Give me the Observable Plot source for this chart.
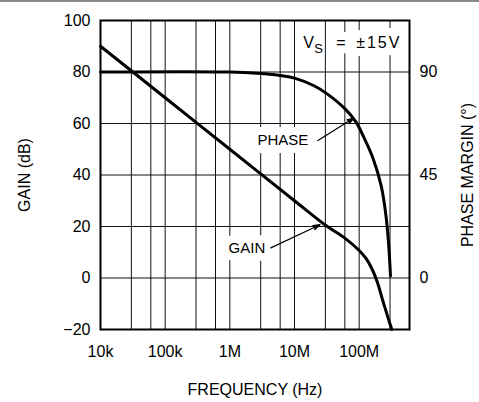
<!DOCTYPE html>
<html><head><meta charset="utf-8">
<script src="https://cdn.jsdelivr.net/npm/d3@7"></script>
<script src="https://cdn.jsdelivr.net/npm/@observablehq/plot@0.6"></script>
<style>
html,body{margin:0;padding:0;background:#fff;}
#wrap{position:relative;width:479px;height:402px;overflow:hidden;}
#topline{position:absolute;left:0;top:0;width:479px;height:2px;background:#8a8a8a;z-index:2;}
#chart{position:absolute;left:0;top:0;}
</style></head>
<body><div id="wrap"><div id="topline"></div><div id="chart"></div></div>
<script>
// ---- data ----
const gainFreq = [1e4, 1e5, 1e6, 1e7, 3.1e7, 6e7, 1e8, 1.3e8, 1.6e8, 1.9e8, 2.3e8, 2.8e8, 3.2e8];
const gainDb   = [90, 70, 50, 30, 20.3, 15.5, 10.7, 7.3, 3.2, -1.5, -8.5, -15.5, -20];

const phaseFreq = [1e4, 1e6, 3e6, 6e6, 1e7, 2e7, 3e7, 6e7, 9e7, 1.2e8, 1.65e8, 2.2e8, 2.6e8, 2.85e8, 3.05e8];
const phaseDeg  = [90, 90, 89.3, 88.5, 87.3, 84, 81, 74, 68, 61, 52, 40, 27, 15, 1];

const xTickValues = [1e4, 1e5, 1e6, 1e7, 1e8];
const xTickLabels = ["10k", "100k", "1M", "10M", "100M"];
const gainTicks = [-20, 0, 20, 40, 60, 80, 100];
const phaseTicks = [0, 45, 90];
const gridFreqs = [1e4, 3e4, 6e4, 1e5, 3e5, 6e5, 1e6, 3e6, 6e6, 1e7, 3e7, 6e7, 1e8, 3e8, 6e8];

const labelText = ["PHASE", "GAIN"];
const labelFreq = [6.6e6, 1.84e6];
const labelDb   = [53.4, 11.5];

const arrowFromFreq = [2.3e7, 4.3e6];
const arrowFromDb   = [53.4, 11.7];
const arrowToFreq   = [8.3e7, 2.48e7];
const arrowToDb     = [62.1, 20.7];

const vsFreq = 1.36e7, vsDb = 91.5;
const xTitle = "FREQUENCY (Hz)";
const yTitle = "GAIN (dB)";
const y2Title = "PHASE MARGIN (°)";

// ---- build tables ----
const phaseScale = 80 / 90; // 90° sits on the 80 dB line
const gain = gainFreq.map((f, i) => ({f, v: gainDb[i]}));
const phase = phaseFreq.map((f, i) => ({f, v: phaseDeg[i] * phaseScale}));
const labels = labelText.map((t, i) => ({t, f: labelFreq[i], v: labelDb[i]}));
const arrows = arrowFromFreq.map((f, i) => ({f1: f, v1: arrowFromDb[i], f2: arrowToFreq[i], v2: arrowToDb[i]}));
const vs = [{f: vsFreq, v: vsDb}];
const font = "'Liberation Sans', Arial, Helvetica, sans-serif";

const chart = Plot.plot({
  width: 479, height: 402,
  marginLeft: 100, marginRight: 70, marginTop: 20, marginBottom: 73,
  style: {fontFamily: font, fontSize: "16px", color: "#000", background: "#fff", overflow: "visible"},
  x: {type: "log", domain: [1e4, 6e8]},
  y: {domain: [-20, 100]},
  marks: [
    Plot.ruleX(gridFreqs, {stroke: "#111", strokeWidth: 1}),
    Plot.ruleY(gainTicks, {stroke: "#111", strokeWidth: 1}),
    Plot.text(labels, {x: "f", y: "v", text: "t", fontSize: 15, fill: "#000", stroke: "#fff", strokeWidth: 16}),
    Plot.text(vs, {x: "f", y: "v", text: () => "V", textAnchor: "start", fontSize: 16, fill: "#000", stroke: "#fff", strokeWidth: 16}),
    Plot.text(vs, {x: "f", y: "v", text: () => "=", textAnchor: "start", dx: 33, fontSize: 16, fill: "#000", stroke: "#fff", strokeWidth: 16}),
    Plot.text(vs, {x: "f", y: "v", text: () => "±15V", textAnchor: "start", dx: 53, fontSize: 16, fill: "#000", stroke: "#fff", strokeWidth: 16}),
    Plot.text(vs, {x: "f", y: "v", text: () => "S", textAnchor: "start", dx: 11, dy: 6, fontSize: 13, fill: "#000"}),
    Plot.line(gain, {x: "f", y: "v", stroke: "#000", strokeWidth: 3, curve: "catmull-rom"}),
    Plot.line(phase, {x: "f", y: "v", stroke: "#000", strokeWidth: 3, curve: "catmull-rom"}),
    Plot.arrow(arrows, {x1: "f1", y1: "v1", x2: "f2", y2: "v2", stroke: "#000", fill: "#000", strokeWidth: 1.2, headLength: 9, headAngle: 36}),
    Plot.frame({stroke: "#000", strokeWidth: 2}),
    Plot.axisX({ticks: xTickValues, tickFormat: d => xTickLabels[xTickValues.indexOf(d)], tickSize: 0, tickPadding: 16, fontSize: 16, label: null}),
    Plot.axisY({anchor: "left", ticks: gainTicks, tickFormat: d => (d < 0 ? "\u2212" + Math.abs(d) : String(d)), tickSize: 0, tickPadding: 10, fontSize: 16, label: null}),
    Plot.axisY({anchor: "right", ticks: phaseTicks.map(p => p * phaseScale), tickFormat: d => String(Math.round(d / phaseScale)), tickSize: 0, tickPadding: 10, fontSize: 16, label: null}),
    Plot.text([xTitle], {frameAnchor: "bottom", text: d => d, dy: 60, lineAnchor: "middle", textAnchor: "middle", fontSize: 16}),
    Plot.text([yTitle], {frameAnchor: "left", text: d => d, dx: -76, rotate: -90, lineAnchor: "middle", textAnchor: "middle", fontSize: 16}),
    Plot.text([y2Title], {frameAnchor: "right", text: d => d, dx: 58, rotate: -90, lineAnchor: "middle", textAnchor: "middle", fontSize: 16})
  ]
});
d3.select(chart).selectAll("text").filter(function () { return this.textContent === "±15V"; }).attr("letter-spacing", "2px");
document.getElementById("chart").appendChild(chart);
</script>
</body></html>
